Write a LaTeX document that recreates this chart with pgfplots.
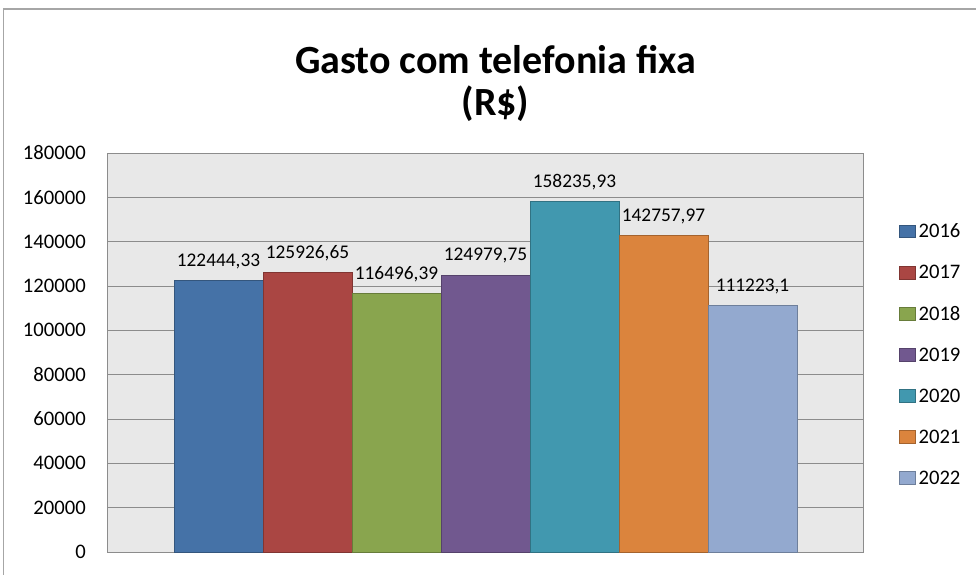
\documentclass[border=0pt]{standalone}
\usepackage{pgfplots}
\pgfplotsset{compat=1.18}
\usepackage{fontspec}
\setmainfont{Carlito}
\definecolor{c1}{HTML}{4572A7}
\definecolor{c2}{HTML}{AA4643}
\definecolor{c3}{HTML}{89A54E}
\definecolor{c4}{HTML}{71588F}
\definecolor{c5}{HTML}{4198AF}
\definecolor{c6}{HTML}{DB843D}
\definecolor{c7}{HTML}{93A9CF}
\definecolor{bggray}{HTML}{E8E8E8}
\definecolor{gridgray}{HTML}{8C8C8C}
\definecolor{framegray}{HTML}{A6A6A6}
\begin{document}
\begin{tikzpicture}[x=1pt,y=1pt]
\useasboundingbox (0,0) rectangle (732,-431.25);
\draw[color=framegray, line width=1.1pt] (2.625,-440) -- (2.625,-6.75) -- (740,-6.75);
\node[anchor=base, inner sep=0pt, font=\fontsize{30}{36}\selectfont\bfseries] at (371.6,-54.75) {Gasto com telefonia fixa};
\node[anchor=base, inner sep=0pt, font=\fontsize{30}{36}\selectfont\bfseries] at (371.6,-86.5) {(R\$)};
\begin{axis}[
  at={(81pt,-114.75pt)}, anchor=north west,
  scale only axis, width=566.25pt, height=299.25pt,
  xmin=-0.2416, xmax=8.2416, ymin=0, ymax=180000,
  ytick={0,20000,40000,60000,80000,100000,120000,140000,160000,180000},
  yticklabels={0,20000,40000,60000,80000,100000,120000,140000,160000,180000},
  xtick=\empty,
  scaled y ticks=false,
  yticklabel style={font=\fontsize{15.5}{18}\selectfont, anchor=east, inner sep=0pt, xshift=-16.5pt},
  ymajorgrids, grid style={gridgray, line width=0.75pt},
  major tick length=0pt,
  axis line style={gridgray, line width=0.75pt},
  axis background/.style={fill=bggray},
  ybar, bar width=1, bar shift=0pt,
  nodes near coords, point meta=explicit symbolic,
  every node near coord/.append style={anchor=base, yshift=10.5pt, inner sep=0pt,
    font=\fontsize{14.5}{17}\selectfont, text=black},
  leg/.style={legend image code/.code={\draw[##1, line width=0.6pt] (0pt,-4.9pt) rectangle (11.8pt,4.6pt);}},
  legend style={at={(1.0477,0.82)}, anchor=north west, draw=none, fill=none,
    inner sep=0pt, outer sep=0pt, row sep=20.7pt, column sep=2.25pt,
    font=\fontsize{15.5}{18}\selectfont,
    nodes={inner sep=0pt, text height=9.8pt, text depth=0pt}},
  legend cell align=left,
]
\addplot[fill=c1, draw=c1!75!black, line width=0.6pt, leg] coordinates {(1,122444.33) [122444,33]};
\addplot[fill=c2, draw=c2!75!black, line width=0.6pt, leg] coordinates {(2,125926.65) [125926,65]};
\addplot[fill=c3, draw=c3!75!black, line width=0.6pt, leg] coordinates {(3,116496.39) [116496,39]};
\addplot[fill=c4, draw=c4!75!black, line width=0.6pt, leg] coordinates {(4,124979.75) [124979,75]};
\addplot[fill=c5, draw=c5!75!black, line width=0.6pt, leg] coordinates {(5,158235.93) [158235,93]};
\addplot[fill=c6, draw=c6!75!black, line width=0.6pt, leg] coordinates {(6,142757.97) [142757,97]};
\addplot[fill=c7, draw=c7!75!black, line width=0.6pt, leg] coordinates {(7,111223.1) [111223,1]};
\legend{2016,2017,2018,2019,2020,2021,2022}
\end{axis}
\end{tikzpicture}
\end{document}
